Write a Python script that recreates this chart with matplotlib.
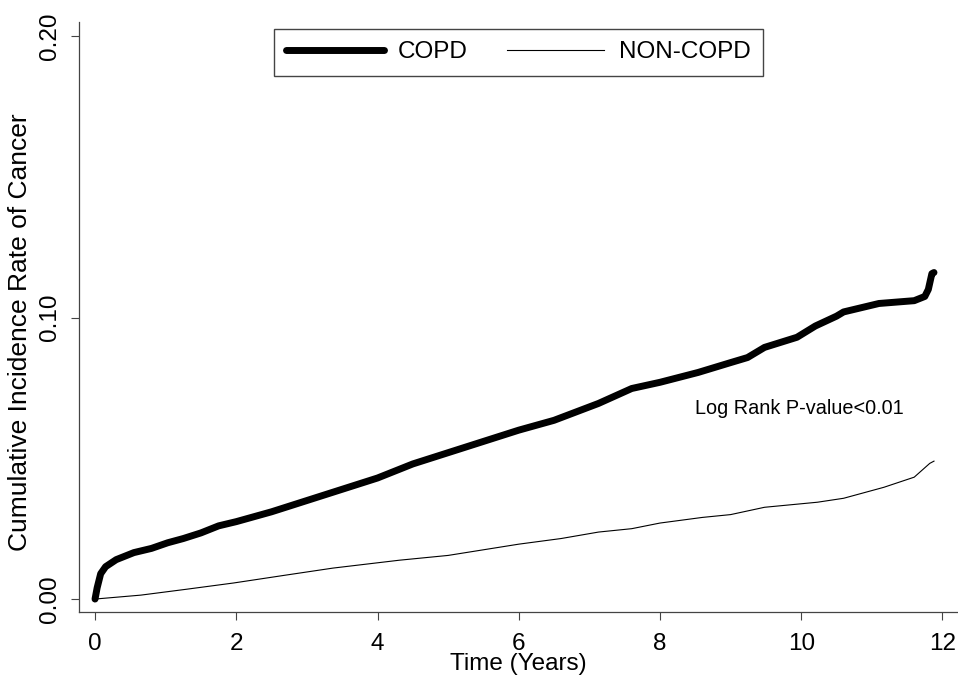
import numpy as np
import matplotlib
matplotlib.use("Agg")
import matplotlib.pyplot as plt

plt.rcParams['font.family'] = ['Liberation Sans', 'DejaVu Sans']

# cumulative incidence
copd_t = [0, 0.03, 0.08, 0.15, 0.3, 0.55, 0.8, 1.03, 1.25, 1.5, 1.75, 2.0,
          2.5, 3.0, 3.5, 4.0, 4.5, 5.0, 5.5, 6.0, 6.5, 7.13, 7.6, 8.0, 8.54,
          9.0, 9.24, 9.48, 9.94, 10.2, 10.5, 10.6, 11.1, 11.6, 11.75, 11.8,
          11.85, 11.88]
copd_y = [0, 0.004, 0.009, 0.0115, 0.014, 0.0165, 0.018, 0.020, 0.0215,
          0.0235, 0.026, 0.0275, 0.031, 0.035, 0.039, 0.043, 0.048, 0.052,
          0.056, 0.060, 0.0635, 0.0695, 0.0748, 0.0770, 0.0805, 0.0840,
          0.0858, 0.0894, 0.093, 0.097, 0.1005, 0.102, 0.105, 0.106, 0.1075,
          0.110, 0.1156, 0.116]

non_t = [0, 0.65, 1.3, 1.96, 2.7, 3.37, 4.31, 5.0, 5.5, 6.0, 6.6, 7.13, 7.6,
         8.0, 8.6, 9.0, 9.48, 10.23, 10.6, 11.17, 11.6, 11.82, 11.88]
non_y = [0, 0.0014, 0.0035, 0.0057, 0.0085, 0.011, 0.0138, 0.0155, 0.0175,
         0.0195, 0.0215, 0.0238, 0.0250, 0.027, 0.029, 0.030, 0.0326, 0.0344,
         0.0358, 0.0397, 0.0433, 0.0482, 0.049]

x_ticks = [0, 2, 4, 6, 8, 10, 12]
y_ticks = [0.0, 0.10, 0.20]
y_labels = ["0.00", "0.10", "0.20"]

fig = plt.figure(figsize=(9.58, 6.81), dpi=100)
ax = fig.add_axes([79 / 958, 1 - 612 / 681, 1 - 79 / 958, (612 - 22) / 681])

ax.plot(copd_t, copd_y, color="black", lw=5, solid_capstyle="round",
        solid_joinstyle="round", label="COPD")
ax.plot(non_t, non_y, color="black", lw=0.8, label="NON-COPD")

ax.set_xlim(-0.227, 12.22)
ax.set_ylim(-0.0046, 0.205)
ax.set_xticks(x_ticks)
ax.set_yticks(y_ticks)
ax.set_yticklabels(y_labels, rotation=90, va="center")
ax.tick_params(labelsize=17.5, length=6, width=0.8, color="#444")
ax.tick_params(axis="x", pad=9)
ax.tick_params(axis="y", pad=7)

for s in ["top", "right"]:
    ax.spines[s].set_visible(False)
for s in ["left", "bottom"]:
    ax.spines[s].set_color("#444")
    ax.spines[s].set_linewidth(0.9)

ax.set_xlabel("Time (Years)", fontsize=17.5, labelpad=-1)
ax.set_ylabel("Cumulative Incidence Rate of Cancer", fontsize=19)
ax.yaxis.set_label_coords(-0.053, 0.475)

ax.text(8.49, 0.0677, "Log Rank P-value<0.01", fontsize=14.3, va="center")

leg = ax.legend(loc="upper center", ncol=2, fontsize=17.5, fancybox=False,
                handlelength=4.0, handletextpad=0.6, columnspacing=1.6,
                borderaxespad=0.3, borderpad=0.5, edgecolor="#444",
                framealpha=1)
leg.get_frame().set_linewidth(1.0)

fig.savefig("out.png", dpi=100)
